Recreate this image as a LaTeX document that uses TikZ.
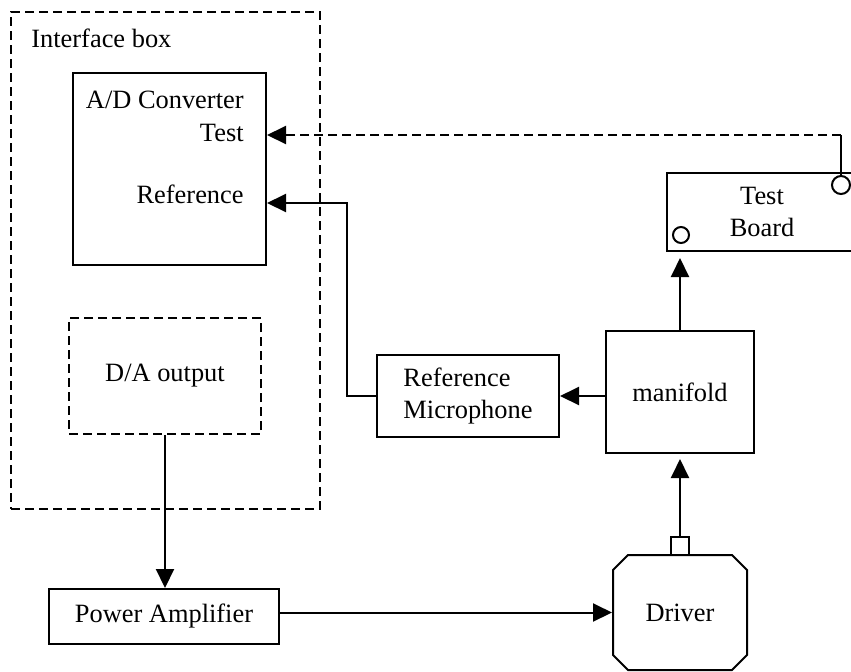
\documentclass[tikz,border=0pt]{standalone}
\usepackage{fontspec}
\setmainfont{Liberation Serif}
\usetikzlibrary{arrows.meta,shapes.misc}

\tikzset{
  blk/.style={draw, line width=1pt, inner sep=0pt},
  dashblk/.style={blk, dash pattern=on 4.5pt off 2.5pt},
  wire/.style={line width=1pt},
  sig/.style={wire, -{Triangle[length=9.5pt,width=9pt]}},
  port/.style={draw, circle, line width=1pt, inner sep=0pt},
}

\begin{document}
\begin{tikzpicture}[x=0.5pt,y=0.5pt,yscale=-1,font=\fontsize{13.2}{15.6}\selectfont]
\useasboundingbox (0,0) rectangle (851,671);

% Interface box
\node (ibox) [dashblk, minimum width=154.5pt, minimum height=248.5pt] at (165.5,260.5) {};
\node (iboxlabel) [anchor=west, inner sep=0pt] at (31,38) {Interface box};

% A/D converter
\node (adc) [blk, minimum width=96.5pt, minimum height=96pt] at (169.5,169) {};
\node (adctitle) [anchor=east, inner sep=0pt] at (244,100) {A/D Converter};
\node (adctest) [anchor=east, inner sep=0pt] at (244,133) {Test};
\node (adcref) [anchor=east, inner sep=0pt] at (244,194) {Reference};

% D/A output
\node (dac) [dashblk, minimum width=96pt, minimum height=58pt] at (165,376) {D/A output};

% Power amplifier
\node (pamp) [blk, minimum width=115pt, minimum height=27.5pt] at (164,616.5) {Power Amplifier};

% Driver
\node (driver) [blk, chamfered rectangle, chamfered rectangle xsep=10pt,
  minimum width=67pt, minimum height=57.5pt] at (680,612.5) {Driver};
\node (drvport) [blk, minimum size=9pt] at (680,546) {};

% Manifold
\node (manifold) [blk, minimum width=74pt, minimum height=61pt] at (680,392) {manifold};

% Reference microphone
\node (refmic) [blk, align=left, minimum width=91pt, minimum height=41pt] at (468,396) {Reference\\Microphone};

% Test board
\node (board) [blk, align=center, minimum width=95pt, minimum height=39pt] at (762,212) {Test\\Board};
\node (tbout) [port, minimum size=9pt] at (841,185) {};
\node (tbin) [port, minimum size=8pt] at (681,235) {};

\coordinate (refbend) at (347,203);
\coordinate (testbend) at (841,135);

% Connections
\draw[sig] (dac.south) -- (dac.south |- pamp.north);
\draw[sig] (driver.west -| pamp.east) -- (driver.west);
\draw[sig, shorten >=2.5pt] (drvport.north) -- (manifold.south);
\draw[sig, shorten >=3pt] (manifold.north) -- (manifold.north |- board.south);
\draw[sig] (refmic.east -| manifold.west) -- (refmic.east);
\draw[sig] (refmic.west) -| (refbend) -- (refbend -| adc.east);
\draw[wire] (tbout.north) -- (testbend);
\draw[sig, dash pattern=on 4.5pt off 2.5pt] (testbend) -- (testbend -| adc.east);

\end{tikzpicture}
\end{document}
